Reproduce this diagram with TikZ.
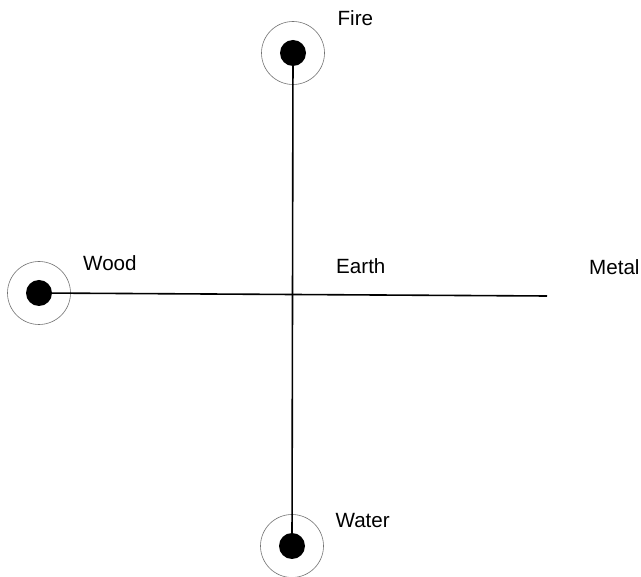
\documentclass[tikz,border=0pt]{standalone}
\usepackage{fontspec}
\setmainfont{Liberation Sans}
\begin{document}
\begin{tikzpicture}[x=1pt,y=-1pt,
  dot/.style={circle,fill=black,inner sep=0pt,minimum size=26pt},
  ring/.style={circle,draw=black!55,line width=0.6pt,inner sep=0pt,minimum size=63pt},
  lbl/.style={anchor=base west,inner sep=0pt,font=\fontsize{20.6pt}{24pt}\selectfont},
  axis/.style={line width=1.6pt,black}]
\useasboundingbox[fill=white] (0,0) rectangle (641,577);
\node[ring] (firering) at (293,53) {};
\node[ring] (woodring) at (39,293) {};
\node[ring] (waterring) at (292,546) {};
\node[dot] (fire) at (293,53) {};
\node[dot] (wood) at (39,293) {};
\node[dot] (water) at (292,546) {};
\coordinate (mend) at (547,296);
\draw[axis] (fire.center) -- (water.center);
\draw[axis] (wood.center) -- (mend);
\node[lbl] (firel) at (337.4,25.8) {Fire};
\node[lbl] (woodl) at (83,271) {Wood};
\node[lbl] (earthl) at (336,274) {Earth};
\node[lbl] (metall) at (589,275) {Metal};
\node[lbl] (waterl) at (335.4,528) {Water};
\end{tikzpicture}
\end{document}
